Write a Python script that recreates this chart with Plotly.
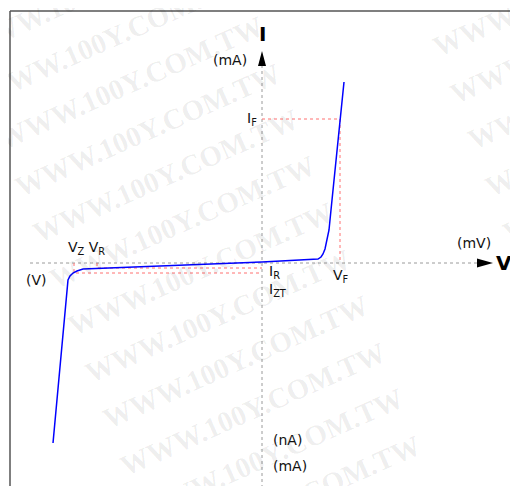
import plotly.graph_objects as go

# ---- data (display units: origin at the axes crossing) ----
curve_v = [-209, -199, -194, -192, -189, -185, -179, 0, 56, 59, 61, 63, 65, 67, 70, 77, 82]
curve_i = [-180, -67, -17, -13, -10, -8, -6, 1, 4, 6, 9, 14, 22, 33, 63, 133, 181]

v_f, i_f = 78, 144          # forward operating point
v_z, i_zt = -188, -10       # zener point
v_r, i_r = -165, -5         # reverse point

x_axis_span = [-232, 215]
y_axis_span = [-231, 197]

# page is offset by the default 8px body margin
OFF = 8
W, H = 518, 486
RX0, RY0 = 262, 263          # origin in page pixels
X0, Y0 = RX0 - OFF, RY0 - OFF
xr = [-X0, W - X0]
yr = [-(H - Y0), Y0]

fig = go.Figure()

# watermark (paper coordinates so that partly visible copies are kept)
wm_col = "rgba(0,0,0,0.07)"
for shift in (0, 470):
    for k in range(-1, 12):
        px = 95 + 17.5 * k + shift
        py = -10 + 46.5 * k
        fig.add_annotation(x=(px - OFF) / W, y=1 - (py - OFF) / H,
                           xref="paper", yref="paper", xanchor="center", yanchor="middle",
                           text="<b>WWW.100Y.COM.TW</b>",
                           showarrow=False, textangle=-24,
                           font=dict(family="Liberation Serif", size=29, color=wm_col))

# axes (dashed)
fig.add_trace(go.Scatter(x=x_axis_span, y=[0, 0], mode="lines",
                         line=dict(color="#9a9a9a", width=1, dash="dot"), hoverinfo="skip"))
fig.add_trace(go.Scatter(x=[0, 0], y=y_axis_span, mode="lines",
                         line=dict(color="#9a9a9a", width=1, dash="dot"), hoverinfo="skip"))

# red reference lines
red = dict(color="#ff7070", width=1, dash="dot")
fig.add_trace(go.Scatter(x=[0, v_f, v_f], y=[i_f, i_f, 0], mode="lines", line=red))
fig.add_trace(go.Scatter(x=[v_z, v_z, 0], y=[0, i_zt, i_zt], mode="lines", line=red))
fig.add_trace(go.Scatter(x=[v_r, v_r, 0], y=[0, i_r, i_r], mode="lines", line=red))

# diode curve
fig.add_trace(go.Scatter(x=curve_v, y=curve_i, mode="lines",
                         line=dict(color="#0000ff", width=1.5), hoverinfo="skip"))

# arrow heads
ytip, xtip = 212, 231
fig.add_shape(type="path", xref="x", yref="y",
              path=f"M 0 {ytip} L -4 {y_axis_span[1]} L 4 {y_axis_span[1]} Z",
              fillcolor="black", line=dict(width=0))
fig.add_shape(type="path", xref="x", yref="y",
              path=f"M {xtip} 0 L {x_axis_span[1]} 4.5 L {x_axis_span[1]} -4.5 Z",
              fillcolor="black", line=dict(width=0))

# frame
fx = (10 - OFF) / W
fy = 1 - (11 - OFF) / H
fig.add_shape(type="line", xref="paper", yref="paper", x0=fx, x1=fx, y0=-0.1, y1=fy,
              line=dict(color="#555", width=1.5))
fig.add_shape(type="line", xref="paper", yref="paper", x0=fx, x1=1.1, y0=fy, y1=fy,
              line=dict(color="#555", width=1.5))

lab = dict(family="DejaVu Sans", size=14, color="#111")
big = dict(family="DejaVu Sans", size=20, color="#000")

def txt(x, y, t, font=lab, xa="center"):
    fig.add_annotation(x=x, y=y, xref="x", yref="y", text=t, showarrow=False,
                       font=font, xanchor=xa, yanchor="middle")

txt(0, 229, "<b>I</b>", big)
txt(242, 0, "<b>V</b>", big)
txt(-32, 203, "(mA)")
txt(-3, 144, "I<sub>F</sub>", xa="right")
txt(-176, 15, "V<sub>Z</sub> V<sub>R</sub>")
txt(-226, -17, "(V)")
txt(212, 20, "(mV)")
txt(5, -9, "I<sub>R</sub>", xa="left")
txt(5, -27, "I<sub>ZT</sub>", xa="left")
txt(79, -13, "V<sub>F</sub>")
txt(9, -177, "(nA)", xa="left")
txt(9, -203, "(mA)", xa="left")

fig.update_layout(width=W, height=H, autosize=False, showlegend=False,
                  margin=dict(l=0, r=0, t=0, b=0),
                  paper_bgcolor="white", plot_bgcolor="white",
                  xaxis=dict(range=xr, visible=False, fixedrange=True),
                  yaxis=dict(range=yr, visible=False, fixedrange=True))

fig.write_html("out.html")
